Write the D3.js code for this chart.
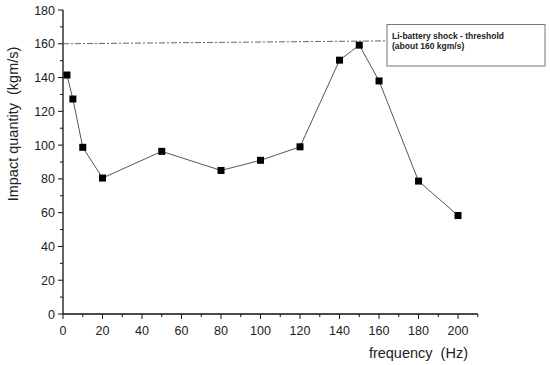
<!DOCTYPE html>
<html><head><meta charset="utf-8">
<script src="https://cdn.jsdelivr.net/npm/d3@7"></script>
<style>body{margin:0;background:#fff}svg{display:block}text{white-space:pre}</style>
</head><body>
<script>
const freq = [2, 5, 10, 20, 50, 80, 100, 120, 140, 150, 160, 180, 200];
const impact = [141.5, 127.3, 98.7, 80.5, 96.3, 85, 91, 99, 150.3, 159.2, 138, 78.7, 58.3];
const thresholdX = [0, 163];
const thresholdY = [160, 161.7];
const xTicks = [0, 20, 40, 60, 80, 100, 120, 140, 160, 180, 200];
const yTicks = [0, 20, 40, 60, 80, 100, 120, 140, 160, 180];
const noteLines = ["Li-battery shock - threshold", "(about 160 kgm/s)"];

const W = 550, H = 365;
const svg = d3.select("body").append("svg").attr("width", W).attr("height", H);
const x = d3.scaleLinear().domain([0, 210]).range([63, 477.8]);
const y = d3.scaleLinear().domain([0, 180]).range([314, 10]);

const xMinor = d3.range(10, 211, 20);
const yMinor = d3.range(10, 180, 20);
const gx = svg.append("g").attr("transform", `translate(0,${y(0)})`);
gx.append("line").attr("x1", x(0)).attr("x2", x(210)).attr("stroke", "#111").attr("stroke-width", 1.3);
gx.selectAll(".mj").data(xTicks).join("line").attr("x1", d => x(d)).attr("x2", d => x(d)).attr("y1", 0).attr("y2", 5).attr("stroke", "#111");
gx.selectAll(".mn").data(xMinor).join("line").attr("x1", d => x(d)).attr("x2", d => x(d)).attr("y1", 0).attr("y2", 3).attr("stroke", "#111");
gx.selectAll("text").data(xTicks).join("text").attr("x", d => x(d)).attr("y", 21)
  .attr("text-anchor", "middle").attr("font-family", "Liberation Sans, Arial, sans-serif").attr("font-size", 12.5).attr("fill", "#222").text(d => d);

const gy = svg.append("g").attr("transform", `translate(${x(0)},0)`);
gy.append("line").attr("y1", y(0)).attr("y2", y(180)).attr("stroke", "#111").attr("stroke-width", 1.3);
gy.selectAll(".mj").data(yTicks).join("line").attr("y1", d => y(d)).attr("y2", d => y(d)).attr("x1", 0).attr("x2", -5).attr("stroke", "#111");
gy.selectAll(".mn").data(yMinor).join("line").attr("y1", d => y(d)).attr("y2", d => y(d)).attr("x1", 0).attr("x2", -3).attr("stroke", "#111");
gy.selectAll("text").data(yTicks).join("text").attr("x", -8).attr("y", d => y(d) + 4.5)
  .attr("text-anchor", "end").attr("font-family", "Liberation Sans, Arial, sans-serif").attr("font-size", 12.5).attr("fill", "#222").text(d => d);

svg.append("line").attr("x1", x(thresholdX[0])).attr("x2", x(thresholdX[1]))
  .attr("y1", y(thresholdY[0])).attr("y2", y(thresholdY[1]))
  .attr("stroke", "#666").attr("stroke-width", 1).attr("stroke-dasharray", "6,2,2,2");

const pts = freq.map((f, i) => [f, impact[i]]);
svg.append("path").datum(pts).attr("fill", "none").attr("stroke", "#555").attr("stroke-width", 1)
  .attr("d", d3.line().x(d => x(d[0])).y(d => y(d[1])));
svg.selectAll(".pt").data(pts).join("rect").attr("x", d => x(d[0]) - 3.5).attr("y", d => y(d[1]) - 3.5)
  .attr("width", 7).attr("height", 7).attr("fill", "#000");

svg.append("rect").attr("x", 387).attr("y", 24.5).attr("width", 158).attr("height", 41.5)
  .attr("fill", "#fff").attr("stroke", "#777").attr("stroke-width", 1);
svg.selectAll(".note").data(noteLines).join("text").attr("x", 392).attr("y", (d, i) => 39 + i * 10)
  .attr("font-family", "Liberation Sans, Arial, sans-serif").attr("font-size", 8.5).attr("font-weight", "bold").attr("fill", "#222").text(d => d);

svg.append("text").attr("x", 468).attr("y", 358).attr("text-anchor", "end")
  .attr("font-family", "Liberation Sans, Arial, sans-serif").attr("font-size", 14.5).attr("fill", "#222").text("frequency  (Hz)");
svg.append("text").attr("transform", "translate(18,124) rotate(-90)").attr("text-anchor", "middle")
  .attr("font-family", "Liberation Sans, Arial, sans-serif").attr("font-size", 14.5).attr("fill", "#222").text("Impact quantity  (kgm/s)");
</script>
</body></html>
